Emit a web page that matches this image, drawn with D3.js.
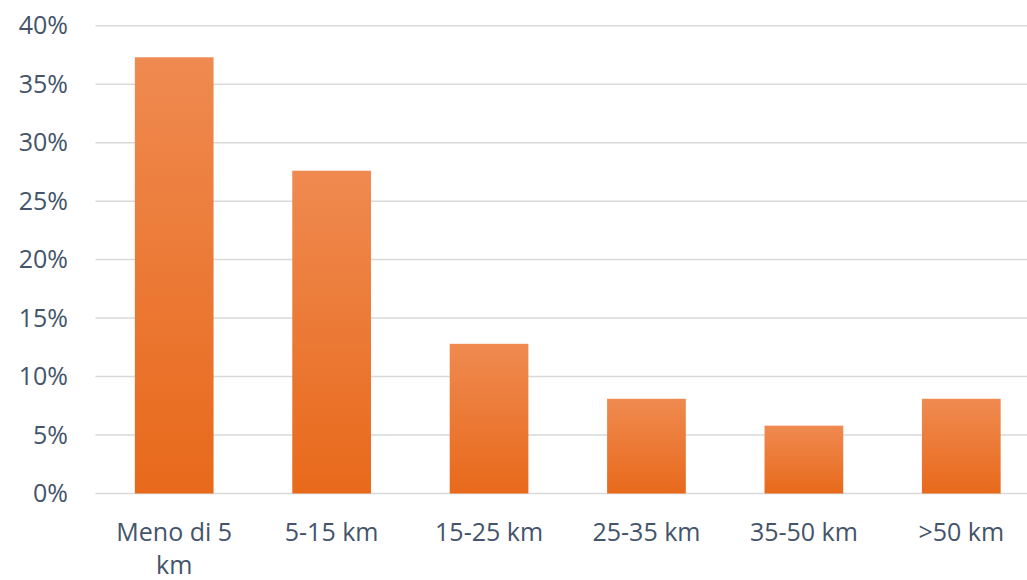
<!DOCTYPE html>
<html>
<head>
<meta charset="utf-8">
<script src="https://cdn.jsdelivr.net/npm/d3@7"></script>
<style>
  html, body { margin: 0; padding: 0; background: #fff; }
  svg { display: block; }
  text { font-family: "Open Sans", "Noto Sans", sans-serif; fill: #44546A; }
</style>
</head>
<body>
<svg id="chart" width="1027" height="580"></svg>
<script>
const categories = ["Meno di 5 km", "5-15 km", "15-25 km", "25-35 km", "35-50 km", ">50 km"];
const values = [0.373, 0.276, 0.128, 0.081, 0.058, 0.081];
const yTicks = [0, 0.05, 0.10, 0.15, 0.20, 0.25, 0.30, 0.35, 0.40];

const svg = d3.select("#chart");
const plot = { left: 95.5, right: 1040, top: 25.7, bottom: 493.5 };

const x = d3.scaleBand().domain(categories).range([plot.left, plot.right])
  .paddingInner(0.5).paddingOuter(0.25);
const y = d3.scaleLinear().domain([0, 0.40]).range([plot.bottom, plot.top]);

const defs = svg.append("defs");
const grad = defs.append("linearGradient").attr("id", "barGrad")
  .attr("x1", 0).attr("y1", 0).attr("x2", 0).attr("y2", 1);
grad.append("stop").attr("offset", "0%").attr("stop-color", "#EF8A50");
grad.append("stop").attr("offset", "100%").attr("stop-color", "#E8691B");

// gridlines
svg.append("g").selectAll("line").data(yTicks).join("line")
  .attr("x1", plot.left).attr("x2", plot.right)
  .attr("y1", d => y(d)).attr("y2", d => y(d))
  .attr("stroke", "#D9D9D9").attr("stroke-width", 1.5);

// y axis labels
const yAxis = d3.axisLeft(y).tickValues(yTicks).tickFormat(d3.format(".0%")).tickSize(0).tickPadding(0);
const gy = svg.append("g").attr("transform", "translate(68,0)").call(yAxis);
gy.select(".domain").remove();
gy.selectAll("text").style("font-size", "25px").attr("fill", "#44546A")
  .style("font-family", "'Open Sans', 'Noto Sans', sans-serif");

// bars
svg.append("g").selectAll("rect").data(categories).join("rect")
  .attr("x", d => x(d)).attr("width", x.bandwidth())
  .attr("y", (d, i) => y(values[i]))
  .attr("height", (d, i) => y(0) - y(values[i]))
  .attr("fill", "url(#barGrad)");

// x axis labels
const xAxis = d3.axisBottom(x).tickSize(0).tickPadding(0);
const gx = svg.append("g").attr("transform", `translate(0,${plot.bottom})`).call(xAxis);
gx.select(".domain").remove();
gx.selectAll("text").style("font-size", "25px").attr("fill", "#44546A")
  .style("font-family", "'Open Sans', 'Noto Sans', sans-serif")
  .attr("y", 0).attr("dy", null)
  .each(function(d) { wrap(d3.select(this), d, x.step()); });

function wrap(textSel, str, width) {
  const words = str.split(/\s+/);
  textSel.text(null);
  let line = [];
  let lineNo = 0;
  const firstBaseline = 47;
  const lineHeight = 33;
  let tspan = textSel.append("tspan").attr("x", 0).attr("y", firstBaseline);
  for (const w of words) {
    line.push(w);
    tspan.text(line.join(" "));
    if (tspan.node().getComputedTextLength() > width && line.length > 1) {
      line.pop();
      tspan.text(line.join(" "));
      line = [w];
      lineNo++;
      tspan = textSel.append("tspan").attr("x", 0).attr("y", firstBaseline + lineNo * lineHeight).text(w);
    }
  }
}
</script>
</body>
</html>
